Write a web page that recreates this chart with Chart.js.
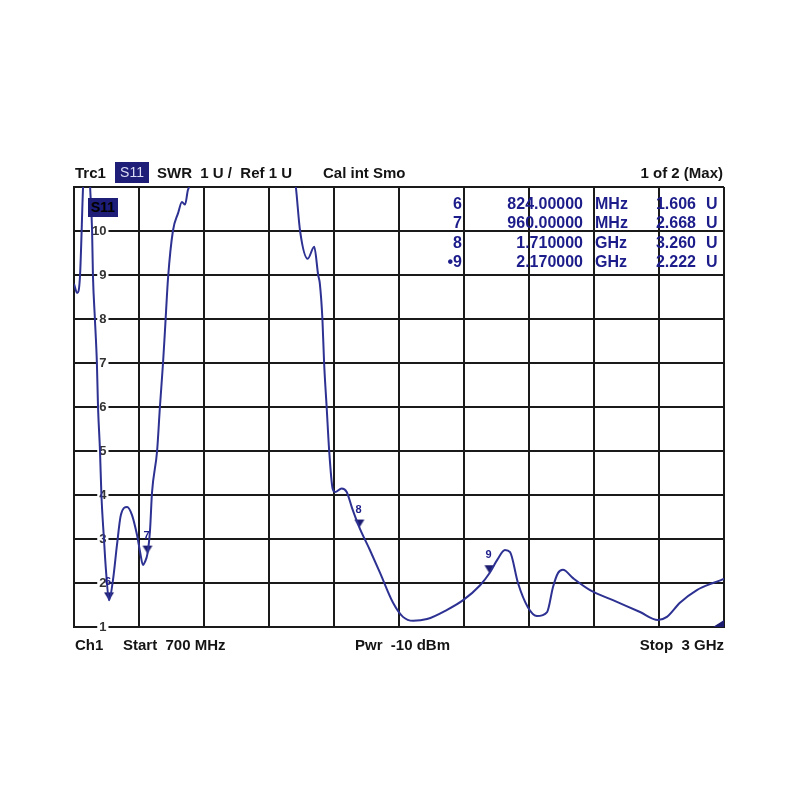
<!DOCTYPE html>
<html lang="en">
<head>
<meta charset="UTF-8">
<title>Trc1 S11 SWR</title>
<style>
  body {
    margin: 0;
    background: #fff;
    font-family: Arial, "Liberation Sans", sans-serif;
  }
  #wrap {
    position: relative;
    width: 800px;
    height: 800px;
  }
  #swrChart {
    position: absolute;
    left: 0;
    top: 0;
  }
  .txt {
    position: absolute;
    font-size: 15px;
    font-weight: bold;
    color: #141414;
    white-space: pre;
    line-height: 20px;
  }
  .mk {
    font-size: 16px;
    color: #1c1c8a;
  }
  .tag {
    position: absolute;
    background: #1e1e78;
    font-size: 14px;
    text-align: center;
  }
</style>
<script src="https://cdn.jsdelivr.net/npm/chart.js"></script>
</head>
<body>
<div id="wrap">
  <canvas id="swrChart" width="800" height="800"></canvas>

  <!-- header line -->
  <div class="txt" style="left:75px; top:163px;">Trc1</div>
  <div class="tag" style="left:115px; top:162px; width:34px; height:21px; line-height:21px; color:#dcdcf5;">S11</div>
  <div class="txt" style="left:157px; top:163px;">SWR  1 U /  Ref 1 U</div>
  <div class="txt" style="left:323px; top:163px;">Cal int Smo</div>
  <div class="txt" style="right:77px; top:163px;">1 of 2 (Max)</div>

  <!-- trace tag inside the grid -->
  <div class="tag" style="left:88px; top:198px; width:30px; height:19px; line-height:19px; color:#000; font-weight:bold;">S11</div>

  <!-- footer line -->
  <div class="txt" style="left:75px; top:635px;">Ch1</div>
  <div class="txt" style="left:123px; top:635px;">Start  700 MHz</div>
  <div class="txt" style="left:355px; top:635px;">Pwr  -10 dBm</div>
  <div class="txt" style="right:76px; top:635px;">Stop  3 GHz</div>

  <div id="marker-table"></div>
</div>

<script>
// trace: frequency (MHz) and SWR
const freqMHz = [700, 711, 721, 732, 745, 757, 764, 767, 774, 781,
  785, 792, 797, 806, 813, 824, 838, 852, 866, 888,
  905, 923, 934, 944, 951, 960, 969, 976, 994, 1004,
  1015, 1022, 1033, 1050, 1068, 1082, 1093, 1103, 1107, 1150,
  1300, 1440, 1485, 1500, 1527, 1550, 1564, 1570, 1579, 1585,
  1594, 1603, 1615, 1624, 1647, 1665, 1684, 1710, 1747, 1783,
  1829, 1864, 1900, 1949, 2020, 2077, 2137, 2170, 2197, 2225,
  2243, 2271, 2306, 2338, 2374, 2395, 2413, 2430, 2466, 2526,
  2607, 2703, 2766, 2798, 2844, 2904, 2961, 3000];
const swr = [8.8, 8.59, 8.95, 11, 13, 11, 10, 9, 8, 7,
  6, 5, 4, 3, 2.3, 1.606, 2.07, 2.86, 3.55, 3.73,
  3.55, 3.09, 2.7, 2.41, 2.48, 2.668, 3.2, 4.05, 5, 6,
  7, 7.75, 8.95, 10, 10.4, 10.66, 10.6, 10.93, 11, 13,
  14, 13, 11, 10, 9.37, 9.64, 9.0, 8.8, 8.0, 7,
  6, 5, 4.15, 4.07, 4.15, 4.07, 3.7, 3.26, 2.75, 2.23,
  1.55, 1.23, 1.14, 1.18, 1.39, 1.61, 1.95, 2.222, 2.52, 2.75,
  2.7, 2.0, 1.45, 1.25, 1.34, 1.91, 2.23, 2.3, 2.11, 1.84,
  1.61, 1.34, 1.16, 1.23, 1.55, 1.84, 2.0, 2.09];

// markers
const markerIds = ['6', '7', '8', '9'];
const markerFreqMHz = [824, 960, 1710, 2170];
const markerSwr = [1.606, 2.668, 3.260, 2.222];
const markerFreqText = ['824.00000', '960.00000', '1.710000', '2.170000'];
const markerUnits = ['MHz', 'MHz', 'GHz', 'GHz'];
const markerSwrText = ['1.606', '2.668', '3.260', '2.222'];
const activeMarker = '9';

// axes: 10 divisions from start to stop, 1 U per division
const xGridMHz = [700, 930, 1160, 1390, 1620, 1850, 2080, 2310, 2540, 2770, 3000];
const yMin = 1;
const yMax = 11;

const navy = '#2d3192';
const gridColor = '#1a1a1a';

// marker table (top right)
const table = document.getElementById('marker-table');
const rowTops = [194, 213, 233, 252];
markerIds.forEach((id, i) => {
  const cells = [
    {text: (id === activeMarker ? '\u2022' : '') + id, right: 338},
    {text: markerFreqText[i], right: 217},
    {text: markerUnits[i], left: 595},
    {text: markerSwrText[i], right: 104},
    {text: 'U', left: 706}
  ];
  cells.forEach(c => {
    const d = document.createElement('div');
    d.className = 'txt mk';
    d.textContent = c.text;
    d.style.top = rowTops[i] + 'px';
    if (c.left !== undefined) d.style.left = c.left + 'px';
    else d.style.right = c.right + 'px';
    table.appendChild(d);
  });
});

// downward triangle with its tip at the centre of the image
function makeTriangle() {
  const c = document.createElement('canvas');
  c.width = 12; c.height = 18;
  const g = c.getContext('2d');
  g.fillStyle = '#1c1c70';
  g.beginPath();
  g.moveTo(1, 1); g.lineTo(11, 1); g.lineTo(6, 9);
  g.closePath(); g.fill();
  return c;
}

// small wedge in the bottom right corner
function makeCorner() {
  const c = document.createElement('canvas');
  c.width = 24; c.height = 16;
  const g = c.getContext('2d');
  g.fillStyle = '#1c1c70';
  g.beginPath();
  g.moveTo(1, 8); g.lineTo(12, 1); g.lineTo(12, 8);
  g.closePath(); g.fill();
  return c;
}

const markerLabels = {
  id: 'markerLabels',
  afterDatasetsDraw(chart) {
    const {ctx, scales} = chart;
    ctx.save();
    ctx.fillStyle = '#1c1c8a';
    ctx.font = 'bold 11px Arial, "Liberation Sans", sans-serif';
    ctx.textAlign = 'center';
    ctx.textBaseline = 'middle';
    markerIds.forEach((id, i) => {
      const x = scales.x.getPixelForValue(markerFreqMHz[i]);
      const y = scales.y.getPixelForValue(markerSwr[i]);
      ctx.fillText(id, x - 1, y - 18);
    });
    ctx.restore();
  }
};

const ctx = document.getElementById('swrChart').getContext('2d');
new Chart(ctx, {
  type: 'line',
  data: {
    datasets: [{
      label: 'S11 SWR',
      data: freqMHz.map((f, i) => ({x: f, y: swr[i]})),
      borderColor: navy,
      borderWidth: 2,
      pointRadius: 0,
      cubicInterpolationMode: 'monotone',
      fill: false
    }, {
      label: 'markers',
      data: markerFreqMHz.map((f, i) => ({x: f, y: markerSwr[i]})),
      showLine: false,
      pointStyle: makeTriangle(),
      pointRadius: 6
    }, {
      label: 'corner',
      data: [{x: xGridMHz[xGridMHz.length - 1], y: yMin}],
      showLine: false,
      pointStyle: makeCorner(),
      pointRadius: 6
    }]
  },
  options: {
    responsive: false,
    animation: false,
    events: [],
    layout: {padding: {left: 74, right: 76, top: 187, bottom: 173}},
    plugins: {legend: {display: false}, tooltip: {enabled: false}},
    scales: {
      x: {
        type: 'linear',
        min: xGridMHz[0],
        max: xGridMHz[xGridMHz.length - 1],
        afterBuildTicks: s => { s.ticks = xGridMHz.map(v => ({value: v})); },
        afterFit: s => { s.height = 0; },
        ticks: {display: false},
        grid: {color: gridColor, lineWidth: 2, drawTicks: false},
        border: {color: gridColor, width: 2}
      },
      y: {
        min: yMin,
        max: yMax,
        afterFit: s => { s.width = 0; },
        ticks: {
          stepSize: 1,
          mirror: true,
          crossAlign: 'far',
          padding: 18,
          color: '#333',
          font: {size: 13, weight: 'bold', family: 'Arial, "Liberation Sans", sans-serif'},
          showLabelBackdrop: true,
          backdropColor: c => (c.tick && c.tick.value === yMax) ? 'rgba(0,0,0,0)' : '#fff',
          backdropPadding: {left: 2, right: 2, top: 0, bottom: 0},
          callback: v => v === yMax ? '' : v
        },
        grid: {color: gridColor, lineWidth: 2, drawTicks: false},
        border: {color: gridColor, width: 2}
      }
    }
  },
  plugins: [markerLabels]
});
</script>
</body>
</html>
